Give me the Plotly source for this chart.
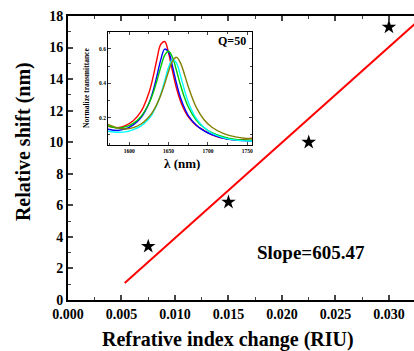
import plotly.graph_objects as go

# Sensor response: refractive index change vs resonance shift
riu_change = [0.0075, 0.015, 0.0225, 0.030]
rel_shift = [3.4, 6.2, 10.0, 17.3]
slope = 605.47
fit_x = [0.0053, 0.0325]

# Transmission spectra (Q=50) sampled at these wavelengths
wl = [1573, 1585, 1595, 1605, 1615, 1625, 1630, 1635, 1640, 1645, 1650,
      1655, 1660, 1665, 1670, 1675, 1685, 1695, 1705, 1720, 1735, 1756]
t_red = [0.149, 0.141, 0.154, 0.182, 0.236, 0.345, 0.431, 0.537, 0.626, 0.643, 0.575,
         0.469, 0.371, 0.297, 0.243, 0.204, 0.154, 0.125, 0.100, 0.079, 0.071, 0.080]
t_blue = [0.132, 0.125, 0.134, 0.158, 0.201, 0.283, 0.351, 0.440, 0.536, 0.599, 0.581,
          0.497, 0.399, 0.317, 0.257, 0.212, 0.157, 0.123, 0.101, 0.079, 0.069, 0.064]
t_green = [0.153, 0.140, 0.146, 0.167, 0.207, 0.282, 0.339, 0.412, 0.494, 0.563, 0.586,
           0.550, 0.474, 0.391, 0.319, 0.262, 0.186, 0.141, 0.113, 0.087, 0.073, 0.068]
t_cyan = [0.121, 0.115, 0.117, 0.130, 0.152, 0.193, 0.227, 0.273, 0.335, 0.414, 0.494,
          0.538, 0.517, 0.445, 0.362, 0.290, 0.195, 0.142, 0.109, 0.082, 0.069, 0.064]
t_olive = [0.161, 0.141, 0.134, 0.142, 0.163, 0.204, 0.235, 0.277, 0.331, 0.397, 0.470,
           0.530, 0.551, 0.519, 0.454, 0.380, 0.261, 0.188, 0.144, 0.107, 0.088, 0.077]

spectra = [(t_red, "#ff0000"), (t_blue, "#0000ff"), (t_green, "#00c800"),
           (t_cyan, "#00ffff"), (t_olive, "#808000")]

x_ticks = [0.000, 0.005, 0.010, 0.015, 0.020, 0.025, 0.030]
x_ticktext = ["0.000", "0.005", "0.010", "0.015", "0.020", "0.025", "0.030"]
y_ticks = list(range(0, 19, 2))
inset_xticks = [1600, 1650, 1700, 1750]
inset_yticks = [0.2, 0.4, 0.6]

mean_x = sum(riu_change) / len(riu_change)
mean_y = sum(rel_shift) / len(rel_shift)
intercept = mean_y - slope * mean_x
fit_y = [slope * v + intercept for v in fit_x]

FONT = "Liberation Serif"

fig = go.Figure()

fig.add_trace(go.Scatter(x=fit_x, y=fit_y, mode="lines",
                         line=dict(color="#ff0000", width=2), showlegend=False))
fig.add_trace(go.Scatter(x=riu_change, y=rel_shift, mode="markers",
                         marker=dict(symbol="star", size=11, color="black"),
                         showlegend=False))

for t, c in spectra:
    fig.add_trace(go.Scatter(x=wl, y=t, mode="lines", xaxis="x2", yaxis="y2",
                             line=dict(color=c, width=1.4, shape="spline", smoothing=1.0),
                             showlegend=False))

fig.update_layout(
    width=414, height=351,
    margin=dict(l=68, r=0, t=16, b=51),
    paper_bgcolor="white", plot_bgcolor="white",
    font=dict(family=FONT, color="black"),
    xaxis=dict(range=[0, 0.03234], tickvals=x_ticks, ticktext=x_ticktext,
               showgrid=False, zeroline=False, showline=True, linecolor="black",
               linewidth=2, mirror="ticks", ticks="inside", ticklen=5, tickwidth=1.5,
               tickfont=dict(family=FONT, size=14, weight="bold"),
               minor=dict(ticks="inside", ticklen=3, tickwidth=1, dtick=0.0025,
                          tick0=0, showgrid=False)),
    yaxis=dict(range=[0, 18], tickvals=y_ticks, showgrid=False, zeroline=False,
               showline=True, linecolor="black", linewidth=2, ticks="inside",
               ticklen=5, tickwidth=1.5,
               tickfont=dict(family=FONT, size=14, weight="bold"),
               minor=dict(ticks="inside", ticklen=3, tickwidth=1, dtick=1,
                          tick0=0, showgrid=False)),
    xaxis2=dict(domain=[0.1156, 0.532], anchor="y2", range=[1573, 1756],
                tickvals=inset_xticks, showgrid=False, zeroline=False,
                showline=True, linecolor="black", linewidth=1, mirror="ticks",
                ticks="inside", ticklen=3, tickwidth=0.8,
                tickfont=dict(family=FONT, size=5.5, weight="bold"),
                minor=dict(ticks="inside", ticklen=2, dtick=25, showgrid=False)),
    yaxis2=dict(domain=[0.546, 0.944], anchor="x2", range=[0.041, 0.699],
                tickvals=inset_yticks, tickformat=".1f", showgrid=False,
                zeroline=False, showline=True, linecolor="black", linewidth=1,
                mirror="ticks", ticks="inside", ticklen=3, tickwidth=0.8,
                tickfont=dict(family=FONT, size=5.5, weight="bold"),
                minor=dict(ticks="inside", ticklen=2, dtick=0.1, showgrid=False)),
    annotations=[
        dict(text="Refrative index change (RIU)", xref="paper", yref="paper",
             x=(228 - 68) / 346, y=(300 - 339) / 284, xanchor="center",
             yanchor="middle", showarrow=False,
             font=dict(family=FONT, size=20, weight="bold")),
        dict(text="Relative shift (nm)", xref="paper", yref="paper",
             x=-0.130, y=0.556, xanchor="center", yanchor="middle", textangle=-90,
             showarrow=False, font=dict(family=FONT, size=20, weight="bold")),
        dict(text="Slope=605.47", xref="x", yref="y", x=0.0227, y=2.98,
             xanchor="center", yanchor="middle", showarrow=False,
             font=dict(family=FONT, size=19, weight="bold")),
        dict(text="Normalize transmittance", xref="paper", yref="paper",
             x=(86 - 68) / 346, y=(300 - 88) / 284, xanchor="center",
             yanchor="middle", textangle=-90, showarrow=False,
             font=dict(family=FONT, size=7.5, weight="bold")),
        dict(text="λ (nm)", xref="paper", yref="paper",
             x=(182 - 68) / 346, y=(300 - 163) / 284, xanchor="center",
             yanchor="middle", showarrow=False,
             font=dict(family=FONT, size=13, weight="bold")),
        dict(text="Q=50", xref="paper", yref="paper",
             x=(232 - 68) / 346, y=(300 - 41) / 284, xanchor="center",
             yanchor="middle", showarrow=False,
             font=dict(family=FONT, size=12, weight="bold")),
    ],
)

fig.write_html("out.html")
